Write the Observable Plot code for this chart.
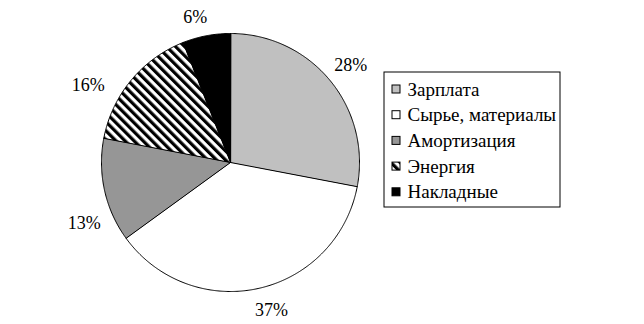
<!DOCTYPE html>
<html>
<head>
<meta charset="utf-8">
<script src="https://cdn.jsdelivr.net/npm/d3@7"></script>
<script src="https://cdn.jsdelivr.net/npm/@observablehq/plot@0.6"></script>
<style>
  html, body { margin: 0; padding: 0; background: #fff; }
  #chart { width: 644px; height: 324px; }
  #chart svg, #chart svg text { font-family: 'Liberation Serif', 'Times New Roman', 'DejaVu Serif', serif !important; }
</style>
</head>
<body>
<div id="chart"></div>
<script>
// ---- data ----
const categories = ["Зарплата", "Сырье, материалы", "Амортизация", "Энергия", "Накладные"];
const values = [28, 37, 13, 16, 6];
const valueLabels = ["28%", "37%", "13%", "16%", "6%"];

// ---- styles / layout ----
const sliceFills = ["#c0c0c0", "#ffffff", "#969696", "url(#hatch)", "#000000"];
const W = 644, H = 324;
const cx = 230, cy = 162, R = 129;
const labelGap = 22;
// label nudges (best-fit placement like the original)
const labelNudge = [[4, -1], [8, 0], [1, 28], [-26, 19], [-7, 3]];
const font = "'Liberation Serif', 'Times New Roman', serif";
const legend = {x1: 384, x2: 560, y1: 72, y2: 207, rowTop: 89, rowStep: 25.7, sw: 8, swX: 392, textX: 407};

// ---- geometry via d3.pie ----
const arcs = d3.pie().sort(null).value(d => d)(values);
const pt = (a, r) => ({x: cx + r * Math.sin(a), y: cy - r * Math.cos(a)});

const sliceMarks = arcs.map((arc, i) => {
  const pts = [{x: cx, y: cy}];
  const n = Math.max(2, Math.ceil((arc.endAngle - arc.startAngle) / (Math.PI / 360)));
  for (let k = 0; k <= n; k++) {
    const a = arc.startAngle + (arc.endAngle - arc.startAngle) * k / n;
    pts.push(pt(a, R));
  }
  return Plot.line(pts, {x: "x", y: "y", curve: "linear-closed", fill: sliceFills[i], stroke: "#000", strokeWidth: 1});
});

const labelMarks = arcs.map((arc, i) => {
  const p = pt((arc.startAngle + arc.endAngle) / 2, R + labelGap);
  return Plot.text([{...p, t: valueLabels[i]}], {
    x: "x", y: "y", text: "t", textAnchor: "middle", lineAnchor: "middle",
    dx: labelNudge[i][0], dy: labelNudge[i][1],
    fontFamily: font, fontSize: 18, fill: "#000"
  });
});

const legendRows = categories.map((c, i) => ({
  name: c, fill: sliceFills[i], y: legend.rowTop + i * legend.rowStep
}));

const chart = Plot.plot({
  width: W, height: H,
  marginTop: 0, marginRight: 0, marginBottom: 0, marginLeft: 0,
  x: {domain: [0, W], range: [0, W], axis: null},
  y: {domain: [0, H], range: [0, H], axis: null},
  style: {background: "#fff"},
  marks: [
    ...sliceMarks,
    ...labelMarks,
    Plot.rect([legend], {x1: "x1", x2: "x2", y1: "y1", y2: "y2", fill: "#fff", stroke: "#000", strokeWidth: 1}),
    Plot.rect(legendRows, {
      x1: () => legend.swX, x2: () => legend.swX + legend.sw,
      y1: d => d.y - legend.sw / 2, y2: d => d.y + legend.sw / 2,
      fill: d => d.fill, stroke: "#000", strokeWidth: 1
    }),
    Plot.text(legendRows, {
      x: () => legend.textX, y: "y", text: "name", textAnchor: "start", lineAnchor: "middle",
      fontFamily: font, fontSize: 19, fill: "#000"
    })
  ],
  color: {type: "identity"}
});

d3.select(chart).insert("defs", ":first-child").html(
  `<pattern id="hatch" patternUnits="userSpaceOnUse" width="6.4" height="6.4" patternTransform="rotate(-45)">
     <rect width="6.4" height="6.4" fill="#fff"/>
     <rect width="3.2" height="6.4" fill="#000"/>
   </pattern>`
);

document.getElementById("chart").appendChild(chart);
</script>
</body>
</html>
